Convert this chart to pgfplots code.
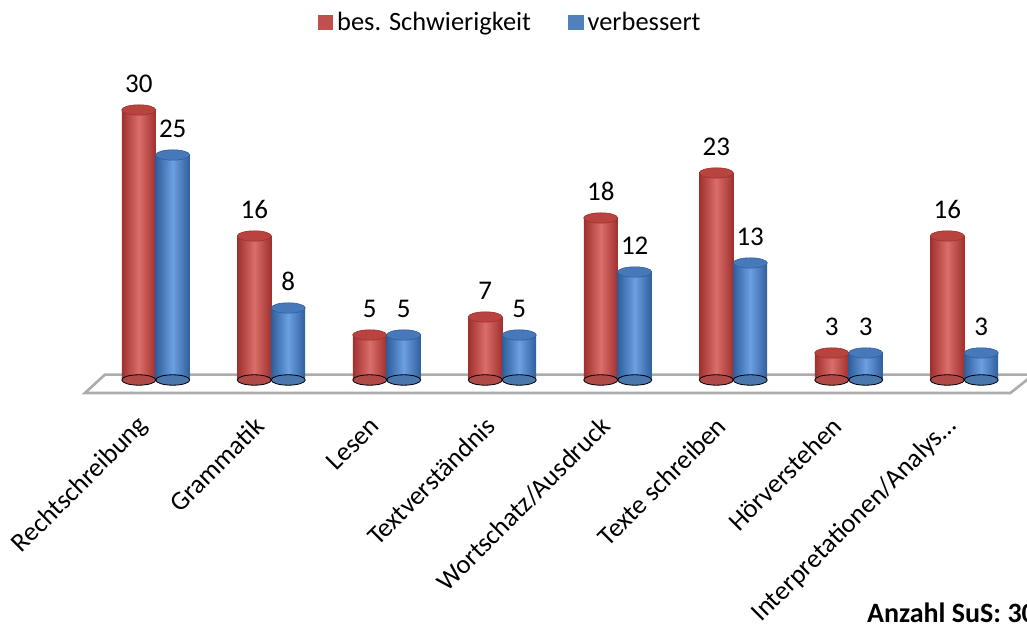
\documentclass[border=0pt]{standalone}
\usepackage{fontspec}
\setmainfont{Carlito}
\usepackage{pgfplots}
\pgfplotsset{compat=1.18}
\definecolor{redA}{HTML}{C0504D}
\definecolor{redL}{HTML}{DA6E6A}
\definecolor{redD}{HTML}{A0302D}
\definecolor{redT}{HTML}{B8433F}
\definecolor{blueA}{HTML}{4F81BD}
\definecolor{blueL}{HTML}{6CA0E0}
\definecolor{blueD}{HTML}{2F5E9C}
\definecolor{blueT}{HTML}{4778BA}
\pgfdeclareplotmark{cyl}{\pgfpathellipse{\pgfpointorigin}{\pgfqpoint{8.5pt}{0pt}}{\pgfqpoint{0pt}{2.6pt}}\pgfusepathqfillstroke}
\pgfplotstableread{
x y
-0.147 30
0.853 16
1.853 5
2.853 7
3.853 18
4.853 23
5.853 3
6.853 16
}\redtab
\pgfplotstableread{
x y
0.147 25
1.147 8
2.147 5
3.147 5
4.147 12
5.147 13
6.147 3
7.147 3
}\bluetab
\pgfplotstableread{
x y
-0.147 0
0.853 0
1.853 0
2.853 0
3.853 0
4.853 0
5.853 0
6.853 0
}\redbase
\pgfplotstableread{
x y
0.147 0
1.147 0
2.147 0
3.147 0
4.147 0
5.147 0
6.147 0
7.147 0
}\bluebase
\begin{document}
\begin{tikzpicture}[x=1pt,y=1pt]
\useasboundingbox (0,0) rectangle (513.5,315);
\begin{axis}[
  at={(49pt,125pt)}, anchor=south west,
  scale only axis, width=462pt, height=148.5pt,
  xmin=-0.5, xmax=7.5, ymin=0, ymax=33,
  clip=false,
  axis line style={draw=none},
  tick style={draw=none},
  ytick=\empty,
  xtick={0,1,2,3,4,5,6,7},
  xticklabels={Rechtschreibung,Grammatik,Lesen,Textverständnis,Wortschatz/Ausdruck,Texte schreiben,Hörverstehen,{Interpretationen/Analys\ldots}},
  xticklabel style={font=\fontsize{13.3}{16}\selectfont, yshift=-18.5pt, xshift=-3.5pt, rotate=45, anchor=east},
  /pgf/number format/assume math mode=true,
  legend style={at={(0.447,1.204)}, anchor=center, draw=none, fill=none,
    legend columns=2, font=\fontsize{13.2}{16}\selectfont,
    /tikz/every even column/.append style={column sep=16.5pt}},
  every node near coord/.append style={font=\fontsize{13.5}{16}\selectfont, anchor=south, yshift=5pt, text=black},
  cylred/.style={ybar, bar width=17pt, bar shift=0pt, draw=none, left color=redD, right color=redD, middle color=redL, forget plot, nodes near coords},
  cylblue/.style={ybar, bar width=17pt, bar shift=0pt, draw=none, left color=blueD, right color=blueD, middle color=blueL, forget plot, nodes near coords},
]
\addlegendimage{legend image code/.code={\fill[redA] (0pt,-3.7pt) rectangle (7.4pt,3.7pt);}}
\addlegendentry{bes. Schwierigkeit}
\addlegendimage{legend image code/.code={\fill[blueA] (0pt,-3.7pt) rectangle (7.4pt,3.7pt);}}
\addlegendentry{verbessert}
\draw[gray!65, line width=1.3pt, fill=white] (axis cs:-0.613,-1.44) -- (axis cs:7.40,-1.44) -- (axis cs:7.60,0.6) -- (axis cs:-0.44,0.6) -- cycle;
% bottom ellipses
\addplot[only marks, mark=cyl, mark options={fill=redA!92!black, draw=none}, forget plot] table[x=x,y=y] {\redbase};
\addplot[only marks, mark=cyl, mark options={fill=blueA!92!black, draw=none}, forget plot] table[x=x,y=y] {\bluebase};
% cylinders, group by group
\addplot[cylred] coordinates {(-0.147,30)};
\addplot[cylblue] coordinates {(0.147,25)};
\addplot[cylred] coordinates {(0.853,16)};
\addplot[cylblue] coordinates {(1.147,8)};
\addplot[cylred] coordinates {(1.853,5)};
\addplot[cylblue] coordinates {(2.147,5)};
\addplot[cylred] coordinates {(2.853,7)};
\addplot[cylblue] coordinates {(3.147,5)};
\addplot[cylred] coordinates {(3.853,18)};
\addplot[cylblue] coordinates {(4.147,12)};
\addplot[cylred] coordinates {(4.853,23)};
\addplot[cylblue] coordinates {(5.147,13)};
\addplot[cylred] coordinates {(5.853,3)};
\addplot[cylblue] coordinates {(6.147,3)};
\addplot[cylred] coordinates {(6.853,16)};
\addplot[cylblue] coordinates {(7.147,3)};
% top ellipses
\addplot[only marks, mark=cyl, mark options={fill=redT, draw=redD, line width=0.3pt}, forget plot] table[x=x,y=y] {\redtab};
\addplot[only marks, mark=cyl, mark options={fill=blueT, draw=blueD, line width=0.3pt}, forget plot] table[x=x,y=y] {\bluetab};
\end{axis}
\node[anchor=base west, font=\fontsize{14}{16}\selectfont\bfseries] at (430,3.5) {Anzahl SuS: 30};
\end{tikzpicture}
\end{document}
